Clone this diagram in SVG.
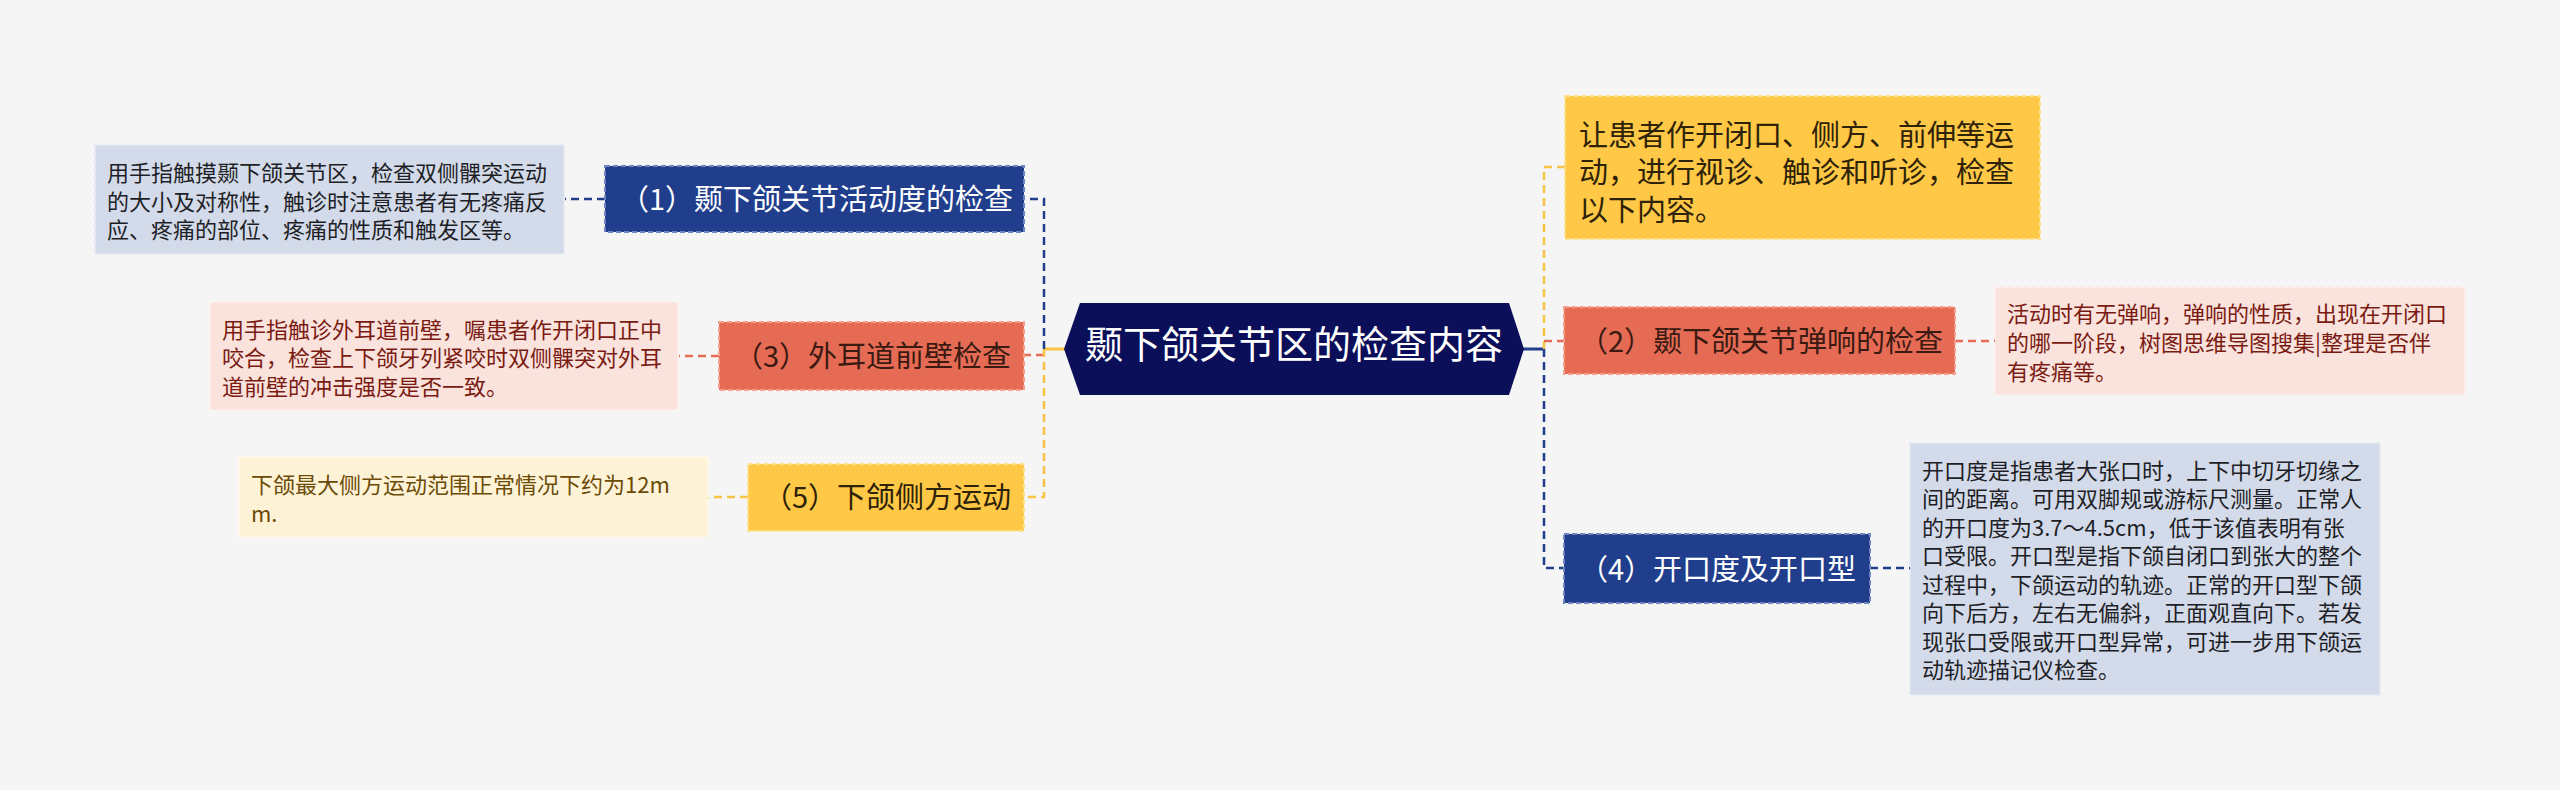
<svg xmlns="http://www.w3.org/2000/svg" width="2560" height="790" viewBox="0 0 2560 790">
<style>
text{font-family:"Noto Sans CJK SC","Noto Sans",sans-serif;}
.n2{font-size:29px;}
.lf{font-size:22px;}
.c{stroke-width:2.5;fill:none;stroke-dasharray:8 5;}
.cb{stroke:#203e8c;}
.cr{stroke:#e56b55;}
.cy{stroke:#f7c445;}
.nb{fill:#203e8c;stroke:#6d86c2;stroke-width:2;stroke-dasharray:5 3;}
.nr{fill:#e56b55;stroke:#f3a08e;stroke-width:2;stroke-dasharray:5 3;}
.ny{fill:#ffc846;stroke:#ffe08e;stroke-width:2;stroke-dasharray:5 3;}
.lb{fill:#d3daea;stroke:#e6eaf3;stroke-width:2;stroke-dasharray:5 3;}
.lr{fill:#fae2dd;stroke:#fdf0ed;stroke-width:2;stroke-dasharray:5 3;}
.ly{fill:#fff3d7;stroke:#fff9ea;stroke-width:2;stroke-dasharray:5 3;}
</style>
<rect x="0" y="0" width="2560" height="790" fill="#f5f5f5"/>
<g id="connectors">
<line x1="1044" y1="349" x2="1065" y2="349" stroke="#f7c445" stroke-width="3"/>
<line x1="1523" y1="349" x2="1544" y2="349" stroke="#203e8c" stroke-width="3"/>
<path class="c cb" d="M1044 349 V199 H1024"/>
<path class="c cr" d="M1044 355 H1024"/>
<path class="c cy" d="M1044 349 V497 H1024"/>
<path class="c cy" d="M1544 349 V167 H1565"/>
<path class="c cr" d="M1544 341 H1564"/>
<path class="c cb" d="M1544 349 V568 H1564"/>
<path class="c cb" d="M605 199 H564"/>
<path class="c cr" d="M719 356 H678"/>
<path class="c cy" d="M748 497 H708"/>
<path class="c cr" d="M1955 341 H1995"/>
<path class="c cb" d="M1870 568 H1910"/>
</g>
<g id="root">
<polygon points="1064,349 1080,303 1509,303 1524,349 1509,395 1080,395" fill="#0b0e58"/>
<text x="1294" y="358" font-size="38" fill="#ffffff" text-anchor="middle">颞下颌关节区的检查内容</text>
</g>
<g id="node1">
<rect class="nb" x="605" y="166" width="419" height="66"/>
<text class="n2" x="620" y="210" fill="#ffffff">（1）颞下颌关节活动度的检查</text>
</g>
<g id="leaf1">
<rect class="lb" x="95" y="145" width="469" height="109"/>
<text class="lf" fill="#1e1f26"><tspan x="107" y="181">用手指触摸颞下颌关节区，检查双侧髁突运动</tspan><tspan x="107" y="209.5">的大小及对称性，触诊时注意患者有无疼痛反</tspan><tspan x="107" y="238">应、疼痛的部位、疼痛的性质和触发区等。</tspan></text>
</g>
<g id="node3">
<rect class="nr" x="719" y="322" width="305" height="68"/>
<text class="n2" x="734" y="367" fill="#3b1a12">（3）外耳道前壁检查</text>
</g>
<g id="leaf3">
<rect class="lr" x="210" y="302" width="468" height="108"/>
<text class="lf" fill="#7a1b12"><tspan x="222" y="337.5">用手指触诊外耳道前壁，嘱患者作开闭口正中</tspan><tspan x="222" y="366">咬合，检查上下颌牙列紧咬时双侧髁突对外耳</tspan><tspan x="222" y="394.5">道前壁的冲击强度是否一致。</tspan></text>
</g>
<g id="node5">
<rect class="ny" x="748" y="464" width="276" height="67"/>
<text class="n2" x="763" y="508" fill="#2e2208">（5）下颌侧方运动</text>
</g>
<g id="leaf5">
<rect class="ly" x="239" y="457" width="469" height="80"/>
<text class="lf" fill="#6b4b06"><tspan x="251" y="493">下颌最大侧方运动范围正常情况下约为12m</tspan><tspan x="251" y="522">m.</tspan></text>
</g>
<g id="nodeTop">
<rect class="ny" x="1565" y="96" width="475" height="143"/>
<text class="n2" fill="#2e2208"><tspan x="1579" y="145.5">让患者作开闭口、侧方、前伸等运</tspan><tspan x="1579" y="183">动，进行视诊、触诊和听诊，检查</tspan><tspan x="1579" y="220.5">以下内容。</tspan></text>
</g>
<g id="node2">
<rect class="nr" x="1564" y="307" width="391" height="67"/>
<text class="n2" x="1579" y="352" fill="#3b1a12">（2）颞下颌关节弹响的检查</text>
</g>
<g id="leaf2">
<rect class="lr" x="1995" y="287" width="470" height="108"/>
<text class="lf" fill="#7a1b12"><tspan x="2007" y="321.5">活动时有无弹响，弹响的性质，出现在开闭口</tspan><tspan x="2007" y="350.5">的哪一阶段，树图思维导图搜集|整理是否伴</tspan><tspan x="2007" y="379.5">有疼痛等。</tspan></text>
</g>
<g id="node4">
<rect class="nb" x="1564" y="534" width="306" height="69"/>
<text class="n2" x="1579" y="580" fill="#ffffff">（4）开口度及开口型</text>
</g>
<g id="leaf4">
<rect class="lb" x="1910" y="443" width="470" height="252"/>
<text class="lf" fill="#1e1f26"><tspan x="1922" y="478.5">开口度是指患者大张口时，上下中切牙切缘之</tspan><tspan x="1922" y="507">间的距离。可用双脚规或游标尺测量。正常人</tspan><tspan x="1922" y="535.5">的开口度为3.7～4.5cm，低于该值表明有张</tspan><tspan x="1922" y="564">口受限。开口型是指下颌自闭口到张大的整个</tspan><tspan x="1922" y="592.5">过程中，下颌运动的轨迹。正常的开口型下颌</tspan><tspan x="1922" y="621">向下后方，左右无偏斜，正面观直向下。若发</tspan><tspan x="1922" y="649.5">现张口受限或开口型异常，可进一步用下颌运</tspan><tspan x="1922" y="678">动轨迹描记仪检查。</tspan></text>
</g>
</svg>
